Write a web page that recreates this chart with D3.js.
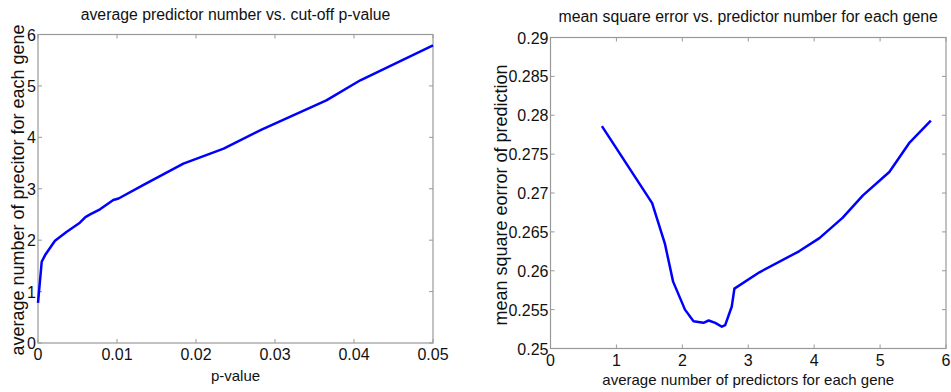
<!DOCTYPE html>
<html>
<head>
<meta charset="utf-8">
<script src="https://cdn.jsdelivr.net/npm/d3@7"></script>
<style>
  body { margin: 0; background: #fff; }
  text { font-family: "Liberation Sans Narrow", "Arial Narrow", "Liberation Sans", Arial, sans-serif; fill: #111; }
</style>
</head>
<body>
<svg id="chart" width="951" height="392"></svg>
<script>
// left panel: average predictor number vs p-value cut-off
const pValues = [0, 0.00047, 0.0009, 0.00215, 0.0036, 0.0053, 0.006, 0.0066, 0.00785, 0.00953, 0.0102,
                 0.0133, 0.0184, 0.0235, 0.0283, 0.0365, 0.0408, 0.05];
const avgPredictors = [0.78, 1.58, 1.71, 1.99, 2.16, 2.34, 2.45, 2.5, 2.60, 2.78, 2.81,
                       3.07, 3.49, 3.78, 4.15, 4.72, 5.11, 5.79];

// right panel: mean square error vs predictor number
const predictorNum = [0.78, 1.542, 1.735, 1.86, 2.04, 2.17, 2.32, 2.40, 2.50, 2.60, 2.65, 2.75, 2.79,
                      3.17, 3.77, 4.08, 4.43, 4.74, 5.14, 5.44, 5.77];
const mse = [0.2786, 0.2687, 0.2635, 0.2586, 0.2550, 0.2535, 0.2533, 0.2536, 0.2533, 0.2528, 0.2530, 0.2554, 0.2577,
             0.2598, 0.2625, 0.2642, 0.2668, 0.2697, 0.2727, 0.2764, 0.2793];

const leftXTicks = [0, 0.01, 0.02, 0.03, 0.04, 0.05];
const leftYTicks = [0, 1, 2, 3, 4, 5, 6];
const rightXTicks = [0, 1, 2, 3, 4, 5, 6];
const rightYTicks = [0.25, 0.255, 0.26, 0.265, 0.27, 0.275, 0.28, 0.285, 0.29];

const svg = d3.select("#chart");

function drawPanel(cfg) {
    const { box, xDomain, yDomain, xTicks, yTicks, xFmt, yFmt, xs, ys, title, xLabel, yLabel, yLabelX } = cfg;
    const x = d3.scaleLinear().domain(xDomain).range([box.left, box.right]);
    const y = d3.scaleLinear().domain(yDomain).range([box.bottom, box.top]);
    const g = svg.append("g");

    // box
    g.append("rect")
        .attr("x", box.left).attr("y", box.top)
        .attr("width", box.right - box.left).attr("height", box.bottom - box.top)
        .attr("fill", "none").attr("stroke", "#999").attr("stroke-width", 1.2);

    // inward ticks, MATLAB style, on all four sides
    const tk = 4;
    xTicks.forEach(t => {
        g.append("line").attr("x1", x(t)).attr("x2", x(t)).attr("y1", box.bottom).attr("y2", box.bottom - tk).attr("stroke", "#999");
        g.append("line").attr("x1", x(t)).attr("x2", x(t)).attr("y1", box.top).attr("y2", box.top + tk).attr("stroke", "#999");
    });
    yTicks.forEach(t => {
        g.append("line").attr("x1", box.left).attr("x2", box.left + tk).attr("y1", y(t)).attr("y2", y(t)).attr("stroke", "#999");
        g.append("line").attr("x1", box.right).attr("x2", box.right - tk).attr("y1", y(t)).attr("y2", y(t)).attr("stroke", "#999");
    });

    // tick labels
    g.selectAll("text.xt").data(xTicks).join("text")
        .attr("class", "xt")
        .attr("x", d => x(d)).attr("y", box.bottom + 17)
        .attr("text-anchor", "middle").style("font-size", "16px")
        .text(xFmt);
    g.selectAll("text.yt").data(yTicks).join("text")
        .attr("class", "yt")
        .attr("x", box.left - 2).attr("y", d => y(d) + 6)
        .attr("text-anchor", "end").style("font-size", "16px")
        .text(yFmt);

    // curve
    const pts = xs.map((v, i) => [v, ys[i]]);
    g.append("path")
        .datum(pts)
        .attr("fill", "none").attr("stroke", "#0000ff").attr("stroke-width", 2.5)
        .attr("stroke-linejoin", "round")
        .attr("d", d3.line().x(d => x(d[0])).y(d => y(d[1])));

    // title and labels
    g.append("text")
        .attr("x", (box.left + box.right) / 2).attr("y", cfg.titleY)
        .attr("text-anchor", "middle").style("font-size", "15.8px")
        .text(title);
    g.append("text")
        .attr("x", (box.left + box.right) / 2).attr("y", cfg.xLabelY)
        .attr("text-anchor", "middle").style("font-size", "15px")
        .text(xLabel);
    g.append("text")
        .attr("transform", `translate(${yLabelX},${cfg.yLabelCy}) rotate(-90)`)
        .attr("text-anchor", "middle").style("font-size", "18px")
        .text(yLabel);
}

drawPanel({
    box: { left: 38, right: 433, top: 34.5, bottom: 343 },
    xDomain: [0, 0.05], yDomain: [0, 6],
    xTicks: leftXTicks, yTicks: leftYTicks,
    xFmt: d => d === 0 ? "0" : d3.format(".2f")(d),
    yFmt: d => d,
    xs: pValues, ys: avgPredictors,
    title: "average predictor number vs. cut-off p-value", titleY: 20,
    xLabel: "p-value", xLabelY: 381,
    yLabel: "average number of precitor for each gene", yLabelX: 24, yLabelCy: 190
});

drawPanel({
    box: { left: 550.5, right: 946, top: 37.5, bottom: 348.5 },
    xDomain: [0, 6], yDomain: [0.25, 0.29],
    xTicks: rightXTicks, yTicks: rightYTicks,
    xFmt: d => d,
    yFmt: d => String(+d.toFixed(3)),
    xs: predictorNum, ys: mse,
    title: "mean square error vs. predictor number for each gene", titleY: 22,
    xLabel: "average number of predictors for each gene", xLabelY: 385,
    yLabel: "mean square eorror of prediction", yLabelX: 507, yLabelCy: 195
});
</script>
</body>
</html>
